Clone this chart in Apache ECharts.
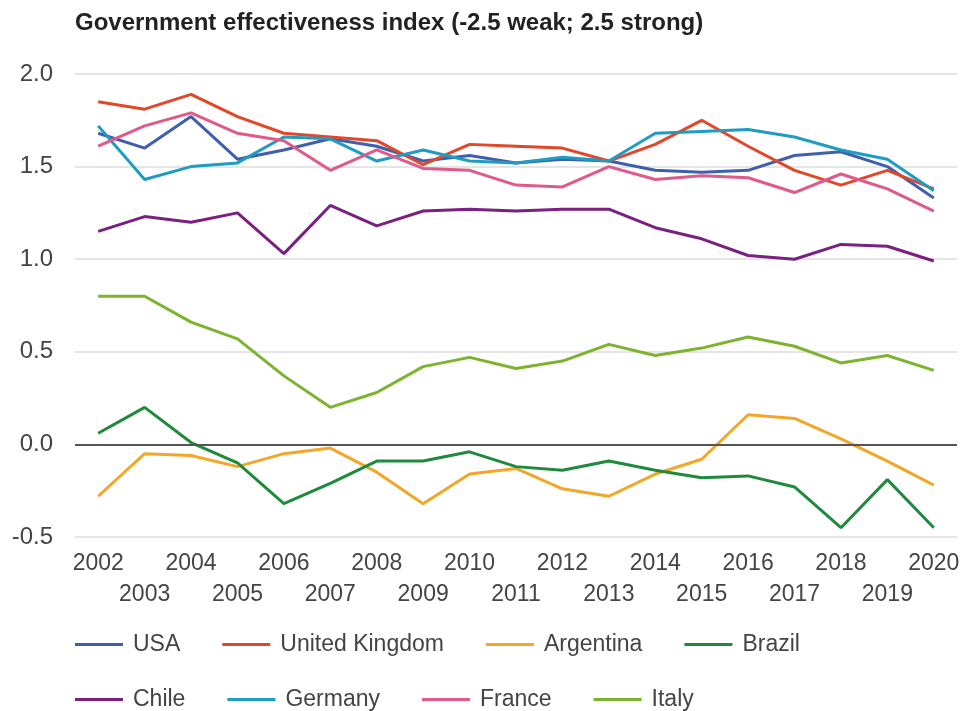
<!DOCTYPE html>
<html>
<head>
<meta charset="utf-8">
<script src="https://cdn.jsdelivr.net/npm/echarts@6/dist/echarts.min.js"></script>
<style>
  html, body { margin: 0; padding: 0; background: #fff; }
  #chart { width: 963px; height: 711px; }
</style>
</head>
<body>
<div id="chart"></div>
<script>
// Government effectiveness index, 2002–2020
const years = ['2002','2003','2004','2005','2006','2007','2008','2009','2010','2011',
               '2012','2013','2014','2015','2016','2017','2018','2019','2020'];

const usa       = [1.68,1.60,1.77,1.54,1.59,1.65,1.61,1.53,1.56,1.52,1.54,1.53,1.48,1.47,1.48,1.56,1.58,1.50,1.33];
const uk        = [1.85,1.81,1.89,1.77,1.68,1.66,1.64,1.51,1.62,1.61,1.60,1.53,1.62,1.75,1.61,1.48,1.40,1.48,1.38];
const argentina = [-0.28,-0.05,-0.06,-0.12,-0.05,-0.02,-0.15,-0.32,-0.16,-0.13,-0.24,-0.28,-0.16,-0.08,0.16,0.14,0.03,-0.09,-0.22];
const brazil    = [0.06,0.20,0.01,-0.10,-0.32,-0.21,-0.09,-0.09,-0.04,-0.12,-0.14,-0.09,-0.14,-0.18,-0.17,-0.23,-0.45,-0.19,-0.45];
const chile     = [1.15,1.23,1.20,1.25,1.03,1.29,1.18,1.26,1.27,1.26,1.27,1.27,1.17,1.11,1.02,1.00,1.08,1.07,0.99];
const germany   = [1.72,1.43,1.50,1.52,1.66,1.65,1.53,1.59,1.53,1.52,1.55,1.53,1.68,1.69,1.70,1.66,1.59,1.54,1.37];
const france    = [1.61,1.72,1.79,1.68,1.64,1.48,1.59,1.49,1.48,1.40,1.39,1.50,1.43,1.45,1.44,1.36,1.46,1.38,1.26];
const italy     = [0.80,0.80,0.66,0.57,0.37,0.20,0.28,0.42,0.47,0.41,0.45,0.54,0.48,0.52,0.58,0.53,0.44,0.48,0.40];

const seriesDefs = [
  { name: 'USA',            data: usa,       color: '#3f5fae' },
  { name: 'United Kingdom', data: uk,        color: '#e2472a' },
  { name: 'Argentina',      data: argentina, color: '#f4a629' },
  { name: 'Brazil',         data: brazil,    color: '#1f8a3c' },
  { name: 'Chile',          data: chile,     color: '#7a2080' },
  { name: 'Germany',        data: germany,   color: '#1f9cc2' },
  { name: 'France',         data: france,    color: '#e0598b' },
  { name: 'Italy',          data: italy,     color: '#7cb32f' }
];

const FONT = '"Liberation Sans", Arial, sans-serif';

const legendBase = {
  left: 75,
  padding: 0,
  icon: 'rect',
  itemWidth: 48,
  itemHeight: 3,
  itemGap: 42,
  textStyle: { fontFamily: FONT, fontSize: 23, color: '#444', padding: [0, 0, 0, 5] }
};

const chart = echarts.init(document.getElementById('chart'), null, { renderer: 'canvas' });

chart.setOption({
  animation: false,
  backgroundColor: '#fff',
  title: {
    text: 'Government effectiveness index (-2.5 weak; 2.5 strong)',
    left: 70,
    top: 6,
    textStyle: { fontFamily: FONT, fontSize: 24, fontWeight: 'bold', color: '#222' }
  },
  legend: [
    Object.assign({}, legendBase, { top: 633, data: seriesDefs.slice(0, 4).map(s => s.name) }),
    Object.assign({}, legendBase, { top: 688, data: seriesDefs.slice(4).map(s => s.name) })
  ],
  grid: { left: 75, right: 6, top: 74, bottom: 174, containLabel: false },
  xAxis: {
    type: 'category',
    data: years,
    boundaryGap: true,
    axisLine: { show: false, onZero: false },
    axisTick: { show: false },
    axisLabel: {
      interval: 0,
      margin: 11,
      fontFamily: FONT,
      fontSize: 23,
      lineHeight: 31,
      color: '#444',
      formatter: (v, i) => (i % 2 ? '\n' + v : v)
    }
  },
  yAxis: {
    type: 'value',
    min: -0.5,
    max: 2,
    interval: 0.5,
    axisLine: { show: false },
    axisTick: { show: false },
    splitLine: { lineStyle: { color: '#dcdcdc', width: 1.5 } },
    axisLabel: {
      margin: 22,
      fontFamily: FONT,
      fontSize: 24,
      color: '#444',
      formatter: v => v.toFixed(1)
    }
  },
  series: seriesDefs.map((s, idx) => {
    const item = {
      name: s.name,
      type: 'line',
      data: s.data,
      symbol: 'none',
      color: s.color,
      lineStyle: { width: 3, color: s.color },
      z: 2
    };
    if (idx === 0) {
      // dark baseline at zero
      item.markLine = {
        silent: true,
        symbol: ['none', 'none'],
        label: { show: false },
        lineStyle: { color: '#555', type: 'solid', width: 2 },
        data: [{ yAxis: 0 }]
      };
    }
    return item;
  })
});
</script>
</body>
</html>
